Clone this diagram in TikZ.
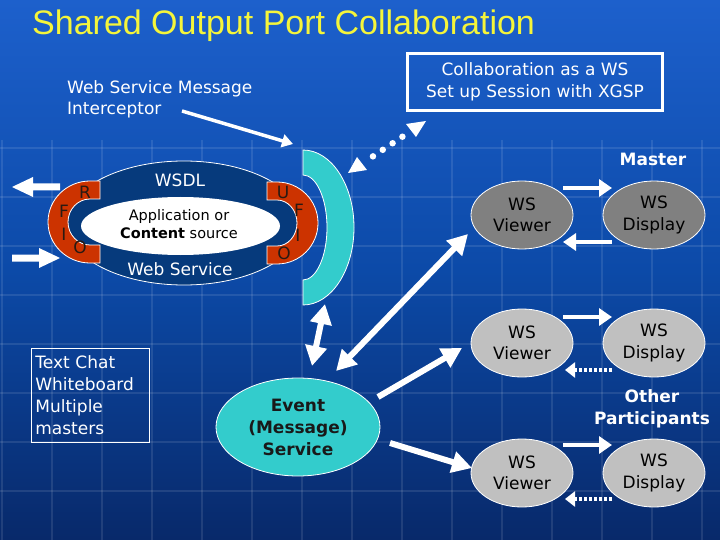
\documentclass[tikz,border=0pt]{standalone}
\usepackage{fontspec}
\setmainfont{DejaVu Sans}
\newfontfamily\titlefont{Liberation Sans}
\usetikzlibrary{arrows.meta,shapes.geometric}
\definecolor{bgtop}{HTML}{1D60CC}
\definecolor{bgmid}{HTML}{0C4AA8}
\definecolor{bgbot}{HTML}{08296A}
\definecolor{titley}{HTML}{F5F53A}
\definecolor{navy}{HTML}{063A7C}
\definecolor{portred}{HTML}{CC3300}
\definecolor{cyanc}{HTML}{33CCCC}
\definecolor{darkg}{HTML}{808080}
\definecolor{lightg}{HTML}{C0C0C0}
\definecolor{lettc}{HTML}{2A1A12}
\begin{document}
\begin{tikzpicture}[x=1pt,y=-1pt,
  wtxt/.style={text=white,font=\fontsize{17}{21.5}\selectfont},
  btxt/.style={text=white,font=\bfseries\fontsize{17}{22.5}\selectfont,align=center},
  gridl/.style={white,opacity=0.10,line width=1.2pt},
  wsnode/.style={ellipse,draw=white,line width=0.8pt,minimum width=102,minimum height=68,inner sep=0,align=center,font=\fontsize{17}{21.5}\selectfont,text=black},
  port/.style={fill=portred,draw=white,line width=0.8pt},
  plet/.style={text=lettc,font=\fontsize{17}{17}\selectfont,inner sep=0},
  solidarr/.style={white,line width=4pt,-{Triangle[width=17pt,length=13pt]}},
  dotarr/.style={white,line width=4pt,dash pattern=on 3pt off 2pt,-{Triangle[width=15pt,length=10pt]}},
  fatarr/.style={white,line width=6pt,-{Triangle[width=21pt,length=20pt]}},
  fatdbl/.style={white,line width=6pt,{Triangle[width=21pt,length=20pt]}-{Triangle[width=21pt,length=20pt]}},
  blockarr/.style={fill=white}]
\useasboundingbox (0,0) rectangle (720,540);
\fill[top color=bgtop,bottom color=bgbot,middle color=bgmid] (0,0) rectangle (720,540);
% faint background grid
\foreach \y in {148,197,246,295,344,393,442,491} \draw[gridl] (0,\y) -- (720,\y);
\foreach \x in {2,52,...,702} \draw[gridl] (\x,140) -- (\x,540);

% title
\node[anchor=west,text=titley,font=\titlefont\fontsize{34}{40}\selectfont,inner sep=0] (title) at (32,26) {Shared Output Port Collaboration};

% interceptor label
\node[wtxt,anchor=north west,align=left,inner sep=0] (interc) at (67,80) {Web Service Message\\Interceptor};
\coordinate (intS) at (182,111);
\coordinate (intE) at (293,144);
\draw[white,line width=3.5pt,-{Triangle[width=13pt,length=11pt]}] (intS) -- (intE);

% collaboration box
\node[draw=white,line width=3pt,wtxt,align=center,minimum width=255,minimum height=57,inner sep=2] (collab) at (535,82) {Collaboration as a WS\\Set up Session with XGSP};

% cyan crescent
\fill[cyanc,draw=white,line width=0.8pt] (303,150) arc[start angle=-90,end angle=90,x radius=51,y radius=77.5] -- (303,280) arc[start angle=90,end angle=-90,x radius=24,y radius=52.5] -- cycle;
\coordinate (cres) at (325,304);

% dotted double arrow to the collab box
\coordinate (dotA) at (348,173);
\coordinate (dotB) at (426,121);
\draw[white,line width=6.5pt,line cap=round,dash pattern=on 0pt off 11.8pt,shorten <=30pt,shorten >=28pt] (dotA) -- (dotB);
\fill[white] (dotA) -- ++(9,-16) -- ++(10,13) -- cycle;
\fill[white] (dotB) -- ++(-20,3) -- ++(10,13) -- cycle;

% web service ellipse
\node[ellipse,fill=navy,draw=white,line width=0.8pt,minimum width=236,minimum height=124,inner sep=0] (ws) at (184,223) {};
\node[ellipse,fill=white,minimum width=199,minimum height=58,inner sep=0] (app) at (180.5,226) {};
\node[wtxt,inner sep=0] (wsdl) at (180,180) {WSDL};
\node[wtxt,inner sep=0] (websvc) at (180,269) {Web Service};
\node[text=black,font=\fontsize{14.5}{18}\selectfont,align=center,inner sep=0] (apptxt) at (179,224) {Application or\\\textbf{Content} source};

% left port (R F I O)
\filldraw[port] (100,181) -- (90,181) arc[start angle=-90,end angle=-270,x radius=42,y radius=41] -- (100,263) -- (100,245) -- (90,245) arc[start angle=90,end angle=270,x radius=22,y radius=23] -- (90,199) -- (100,199) -- cycle;
\node[plet] (lR) at (85,192) {R};
\node[plet] (lF) at (64,211) {F};
\node[plet] (lI) at (64,234) {I};
\node[plet] (lO) at (80,247) {O};
% right port (U F I O)
\filldraw[port] (267,182) -- (277,182) arc[start angle=-90,end angle=90,x radius=41,y radius=41] -- (267,264) -- (267,246) -- (277,246) arc[start angle=90,end angle=-90,x radius=20,y radius=23] -- (267,200) -- cycle;
\node[plet] (rU) at (283,192) {U};
\node[plet] (rF) at (299,210) {F};
\node[plet] (rI) at (298,235) {I};
\node[plet] (rO) at (284,253) {O};

% left block arrows
\fill[blockarr] (60,183.5) -- (33,183.5) -- (33,177) -- (12,187) -- (33,197) -- (33,190.5) -- (60,190.5) -- cycle;
\fill[blockarr] (12,254.5) -- (39,254.5) -- (39,248) -- (60,258) -- (39,268) -- (39,261.5) -- (12,261.5) -- cycle;

% text chat box
\node[draw=white,line width=0.8pt,anchor=north west,minimum width=118,minimum height=94,text width=110,inner sep=4,align=left,wtxt,font=\fontsize{17}{22}\selectfont] (chat) at (31,348) {Text Chat\\Whiteboard\\Multiple\\masters};

% event service
\node[ellipse,fill=cyanc,draw=white,line width=0.8pt,minimum width=164,minimum height=98,inner sep=0,align=center,text=black!90,font=\bfseries\fontsize{17}{22}\selectfont] (event) at (298,427) {Event\\(Message)\\Service};

% WS viewers / displays
\node[wsnode,fill=darkg] (vm) at (522,215) {WS\\Viewer};
\node[wsnode,fill=darkg] (dm) at (654,215) {WS\\Display};
\node[wsnode,fill=lightg] (v2) at (522,343) {WS\\Viewer};
\node[wsnode,fill=lightg] (d2) at (654,343) {WS\\Display};
\node[wsnode,fill=lightg] (v3) at (522,473) {WS\\Viewer};
\node[wsnode,fill=lightg] (d3) at (654,473) {WS\\Display};

\node[btxt,inner sep=0] (master) at (653,159) {Master};
\node[btxt,inner sep=0] (other) at (652,409) {Other\\Participants};

% viewer <-> display arrows
\draw[solidarr] ([shift={(41,-27)}]vm.center) -- ([shift={(-42,-27)}]dm.center);
\draw[solidarr] ([shift={(-42,27)}]dm.center) -- ([shift={(41,27)}]vm.center);
\draw[solidarr] ([shift={(41,-26)}]v2.center) -- ([shift={(-42,-26)}]d2.center);
\draw[dotarr] ([shift={(-42,27)}]d2.center) -- ([shift={(43,27)}]v2.center);
\draw[solidarr] ([shift={(41,-28)}]v3.center) -- ([shift={(-42,-28)}]d3.center);
\draw[dotarr] ([shift={(-42,26)}]d3.center) -- ([shift={(43,26)}]v3.center);

% event connections
\draw[fatdbl] (cres) -- ([shift={(14,-61)}]event.center);
\draw[fatdbl] ([shift={(-54,19)}]vm.center) -- ([shift={(38,-56)}]event.center);
\draw[fatarr] ([shift={(80,-30)}]event.center) -- ([shift={(-60,5)}]v2.center);
\draw[fatarr] ([shift={(92,16)}]event.center) -- ([shift={(-50,-5)}]v3.center);
\end{tikzpicture}
\end{document}
